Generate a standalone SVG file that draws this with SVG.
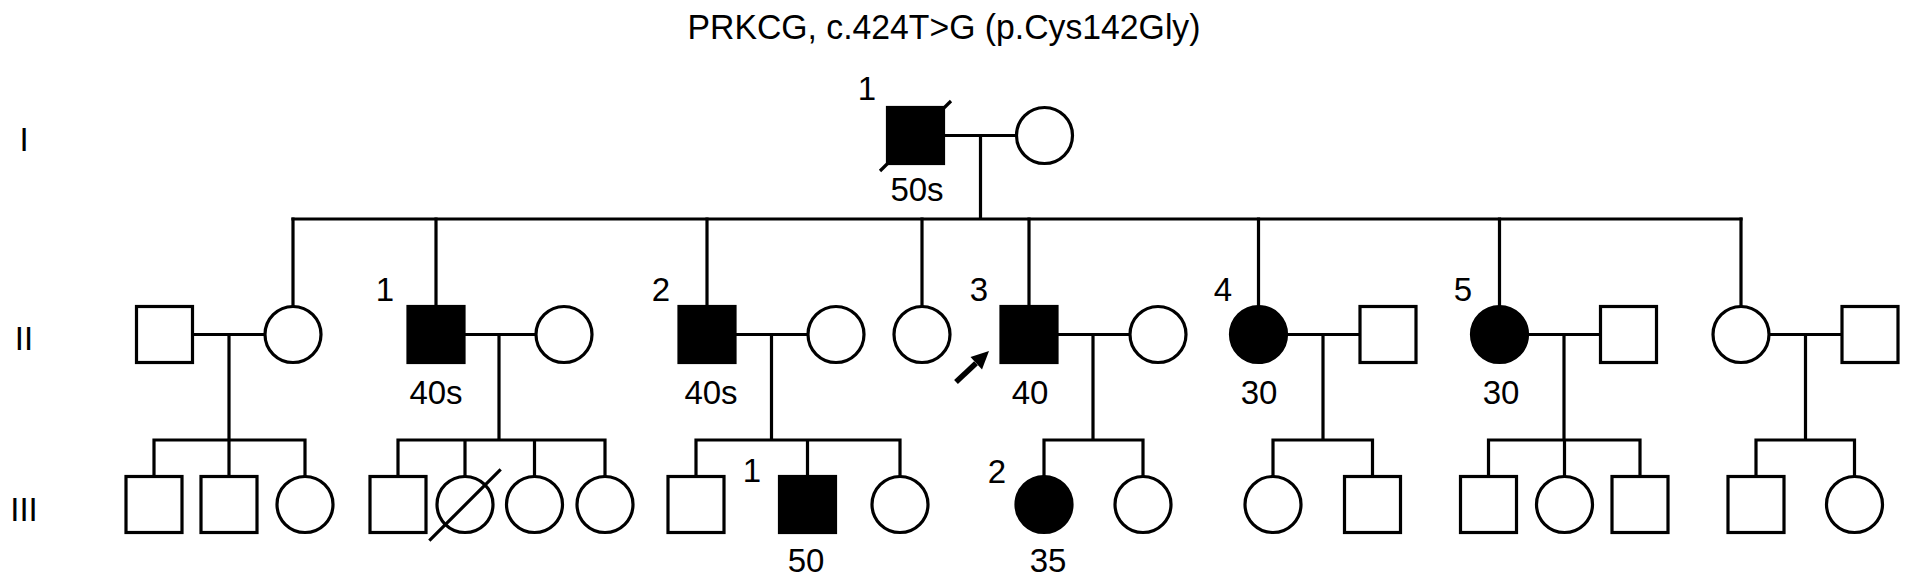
<svg xmlns="http://www.w3.org/2000/svg" width="1913" height="586" viewBox="0 0 1913 586">
<style>
.sq{fill:#fff;stroke:#000;stroke-width:3.2}
.ci{fill:#fff;stroke:#000;stroke-width:3.2}
.aff{fill:#000}
.ln{fill:none;stroke:#000;stroke-width:3.2;stroke-linecap:square}
.dec{fill:none;stroke:#000;stroke-width:3.2}
text{font-family:"Liberation Sans",Arial,sans-serif;fill:#000}
.lb{font-size:33px;text-anchor:middle}
.ttl{font-size:35px;text-anchor:middle}
</style>
<rect x="0" y="0" width="1913" height="586" fill="#fff"/>
<text class="ttl" x="944" y="39" textLength="513" lengthAdjust="spacingAndGlyphs">PRKCG, c.424T&gt;G (p.Cys142Gly)</text>
<g id="generations">
<text class="lb" x="24" y="151">I</text>
<text class="lb" x="24" y="350">II</text>
<text class="lb" x="24" y="521">III</text>
</g>
<g id="connectors">
<path class="ln" d="M944 135.5H1016.5M980.5 135.5V219M293 219H1741"/>
<path class="ln" d="M293 219V306.5M436 219V306.5M707 219V306.5M922 219V306.5M1029 219V306.5M1258.5 219V306.5M1499.5 219V306.5M1741 219V306.5"/>
<path class="ln" d="M192.5 334.5H265M229 334.5V440M154 440H305M154 440V476.5M229 440V476.5M305 440V476.5"/>
<path class="ln" d="M464 334.5H536M499 334.5V440M398 440H605M398 440V476.5M465 440V476.5M534.5 440V476.5M605 440V476.5"/>
<path class="ln" d="M735 334.5H808M771.5 334.5V440M696 440H900M696 440V476.5M807.5 440V476.5M900 440V476.5"/>
<path class="ln" d="M1057 334.5H1130M1093 334.5V440M1044 440H1143M1044 440V476.5M1143 440V476.5"/>
<path class="ln" d="M1286.5 334.5H1360M1323 334.5V440M1273 440H1372.5M1273 440V476.5M1372.5 440V476.5"/>
<path class="ln" d="M1527.5 334.5H1600.5M1564 334.5V440M1488.5 440H1640M1488.5 440V476.5M1564.5 440V476.5M1640 440V476.5"/>
<path class="ln" d="M1769 334.5H1842M1805.5 334.5V440M1756 440H1854.5M1756 440V476.5M1854.5 440V476.5"/>
</g>
<g id="I-1">
<rect class="sq aff" x="887.5" y="107.5" width="56" height="56"/>
<line class="dec" x1="880" y1="171" x2="951" y2="101"/>
<text class="lb" x="867" y="100">1</text>
<text class="lb" x="917" y="201">50s</text>
</g>
<g id="I-2"><ellipse class="ci" cx="1044.5" cy="135.5" rx="28" ry="28"/></g>
<g id="II-sp1"><rect class="sq" x="136.5" y="306.5" width="56" height="56"/></g>
<g id="II-a"><ellipse class="ci" cx="293" cy="334.5" rx="28" ry="28"/></g>
<g id="II-1">
<rect class="sq aff" x="408" y="306.5" width="56" height="56"/>
<text class="lb" x="385" y="301">1</text>
<text class="lb" x="436" y="404">40s</text>
</g>
<g id="II-sp2"><ellipse class="ci" cx="564" cy="334.5" rx="28" ry="28"/></g>
<g id="II-2">
<rect class="sq aff" x="679" y="306.5" width="56" height="56"/>
<text class="lb" x="661" y="301">2</text>
<text class="lb" x="711" y="404">40s</text>
</g>
<g id="II-sp3"><ellipse class="ci" cx="836" cy="334.5" rx="28" ry="28"/></g>
<g id="II-b"><ellipse class="ci" cx="922" cy="334.5" rx="28" ry="28"/></g>
<g id="II-3">
<rect class="sq aff" x="1001" y="306.5" width="56" height="56"/>
<text class="lb" x="979" y="301">3</text>
<text class="lb" x="1030" y="404">40</text>
<line x1="956" y1="382" x2="976" y2="363.3" stroke="#000" stroke-width="5.5"/>
<polygon points="989,351 982,369.5 970.5,357" fill="#000"/>
</g>
<g id="II-sp4"><ellipse class="ci" cx="1158" cy="334.5" rx="28" ry="28"/></g>
<g id="II-4">
<ellipse class="ci aff" cx="1258.5" cy="334.5" rx="28" ry="28"/>
<text class="lb" x="1223" y="301">4</text>
<text class="lb" x="1259" y="404">30</text>
</g>
<g id="II-sp5"><rect class="sq" x="1360" y="306.5" width="56" height="56"/></g>
<g id="II-5">
<ellipse class="ci aff" cx="1499.5" cy="334.5" rx="28" ry="28"/>
<text class="lb" x="1463" y="301">5</text>
<text class="lb" x="1501" y="404">30</text>
</g>
<g id="II-sp6"><rect class="sq" x="1600.5" y="306.5" width="56" height="56"/></g>
<g id="II-c"><ellipse class="ci" cx="1741" cy="334.5" rx="28" ry="28"/></g>
<g id="II-sp7"><rect class="sq" x="1842" y="306.5" width="56" height="56"/></g>
<g id="III-a1"><rect class="sq" x="126" y="476.5" width="56" height="56"/></g>
<g id="III-a2"><rect class="sq" x="201" y="476.5" width="56" height="56"/></g>
<g id="III-a3"><ellipse class="ci" cx="305" cy="504.5" rx="28" ry="28"/></g>
<g id="III-b1"><rect class="sq" x="370" y="476.5" width="56" height="56"/></g>
<g id="III-b2">
<ellipse class="ci" cx="465" cy="504.5" rx="28" ry="28"/>
<line class="dec" x1="429.3" y1="540.7" x2="500.7" y2="469.3"/>
</g>
<g id="III-b3"><ellipse class="ci" cx="534.5" cy="504.5" rx="28" ry="28"/></g>
<g id="III-b4"><ellipse class="ci" cx="605" cy="504.5" rx="28" ry="28"/></g>
<g id="III-c1"><rect class="sq" x="668" y="476.5" width="56" height="56"/></g>
<g id="III-1">
<rect class="sq aff" x="779.5" y="476.5" width="56" height="56"/>
<text class="lb" x="752" y="482">1</text>
<text class="lb" x="806" y="572">50</text>
</g>
<g id="III-c3"><ellipse class="ci" cx="900" cy="504.5" rx="28" ry="28"/></g>
<g id="III-2">
<ellipse class="ci aff" cx="1044" cy="504.5" rx="28" ry="28"/>
<text class="lb" x="997" y="483">2</text>
<text class="lb" x="1048" y="572">35</text>
</g>
<g id="III-d2"><ellipse class="ci" cx="1143" cy="504.5" rx="28" ry="28"/></g>
<g id="III-e1"><ellipse class="ci" cx="1273" cy="504.5" rx="28" ry="28"/></g>
<g id="III-e2"><rect class="sq" x="1344.5" y="476.5" width="56" height="56"/></g>
<g id="III-f1"><rect class="sq" x="1460.5" y="476.5" width="56" height="56"/></g>
<g id="III-f2"><ellipse class="ci" cx="1564.5" cy="504.5" rx="28" ry="28"/></g>
<g id="III-f3"><rect class="sq" x="1612" y="476.5" width="56" height="56"/></g>
<g id="III-g1"><rect class="sq" x="1728" y="476.5" width="56" height="56"/></g>
<g id="III-g2"><ellipse class="ci" cx="1854.5" cy="504.5" rx="28" ry="28"/></g>
</svg>
